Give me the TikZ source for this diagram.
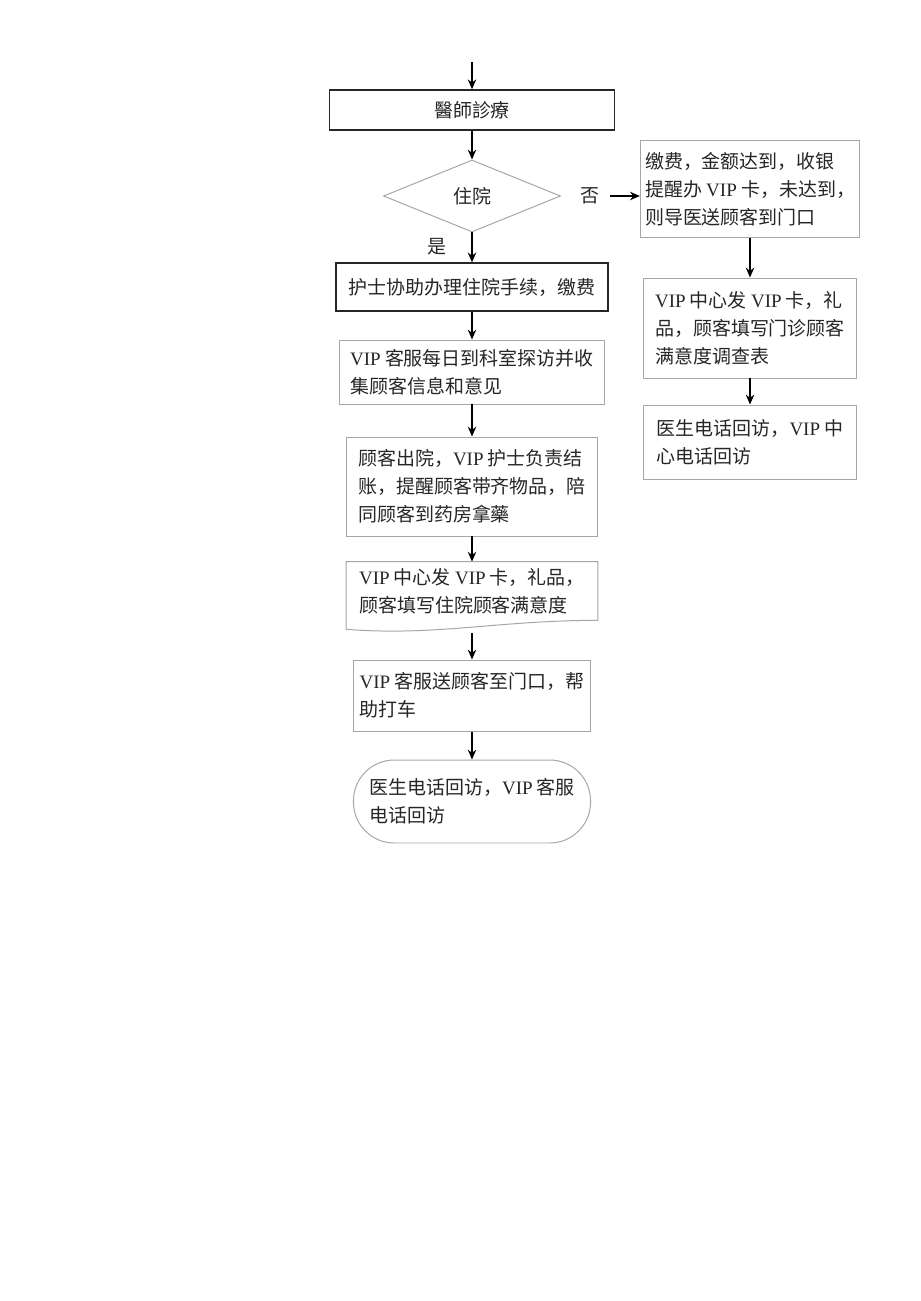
\documentclass[tikz,border=0pt]{standalone}
\usepackage{fontspec}
\setmainfont{Liberation Serif}
\newfontfamily\cjk{Noto Sans CJK SC}
\usetikzlibrary{shapes.geometric,arrows.meta,calc}
\newcommand{\vip}{{\rmfamily VIP}}

\begin{document}
\begin{tikzpicture}
  [x=0.025cm,y=-0.025cm,
   every node/.style={font=\cjk\fontsize{13.5}{20}\selectfont,text=black!85},
   box/.style={draw=gray!70,rectangle,align=left,line width=0.7pt},
   darkbox/.style={box,draw=black!85,line width=1pt},
   arr/.style={-{Stealth[length=7pt,width=6pt]},line width=1pt}]
  \fill[white] (0,0) rectangle (920,1301);
  \useasboundingbox (0,0) rectangle (920,1301);

  % main column
  \coordinate (start) at (472,62);
  \node (n1)[darkbox,align=center,minimum width=202.7pt,minimum height=28.5pt] at (472,110) {醫師診療};
  \node (n2)[diamond,draw=gray!70,line width=0.7pt,aspect=2.46,inner sep=0pt,minimum width=125.9pt,minimum height=51.2pt] at (472,196) {住院};
  \node (no) at (590,196) {否};
  \node (yes) at (437,247) {是};
  \node (n3)[darkbox,minimum width=193.5pt,minimum height=34.1pt] at (472,287) {护士协助办理住院手续，缴费};
  \node (n4)[box,minimum width=188.5pt,minimum height=45.5pt] at (472,372) {\vip{} 客服每日到科室探访并收\\集顾客信息和意见};
  \node (n5)[box,minimum width=178.5pt,minimum height=70.4pt] at (472,486.5) {顾客出院，\vip{} 护士负责结\\账，提醒顾客带齐物品，陪\\同顾客到药房拿藥};
  \node (n6)[align=left,minimum width=178.5pt,minimum height=41.3pt] at (472,591) {\vip{} 中心发 \vip{} 卡，礼品，\\顾客填写住院顾客满意度};
  \draw[draw=gray!70,line width=0.7pt] ($(n6.south west)+(0,9)$) -- (n6.north west) -- (n6.north east) -- (n6.south east)
    .. controls ($(n6.south east)+(-100,0)$) and ($(n6.south west)+(90,16)$) .. cycle;
  \coordinate (n6b) at (472,633);
  \node (n7)[box,minimum width=168.6pt,minimum height=50.5pt] at (472,695.5) {\vip{} 客服送顾客至门口，帮\\助打车};
  \node (n8)[box,rounded corners=29pt,minimum width=168.6pt,minimum height=59pt] at (472,801.5) {医生电话回访，\vip{} 客服\\电话回访};

  % right column
  \node (r1)[box,minimum width=152.2pt,minimum height=68.3pt] at (750,189) {缴费，金额达到，收银\\提醒办 \vip{} 卡，未达到，\\则导医送顾客到门口};
  \node (r2)[box,minimum width=151.5pt,minimum height=71.1pt] at (750,328) {\vip{} 中心发 \vip{} 卡，礼\\品，顾客填写门诊顾客\\满意度调查表};
  \node (r3)[box,minimum width=150.8pt,minimum height=53.3pt] at (750,442.5) {医生电话回访，\vip{} 中\\心电话回访};

  \foreach \from/\to in {start/n1,n1/n2,n2/n3,n3/n4,n4/n5,n5/n6,n6b/n7,n7/n8,r1/r2,r2/r3}
    \draw[arr] (\from) -- (\to);
  \draw[arr,shorten <=4pt] (no.east) -- (no.east -| r1.west);

\end{tikzpicture}
\end{document}
